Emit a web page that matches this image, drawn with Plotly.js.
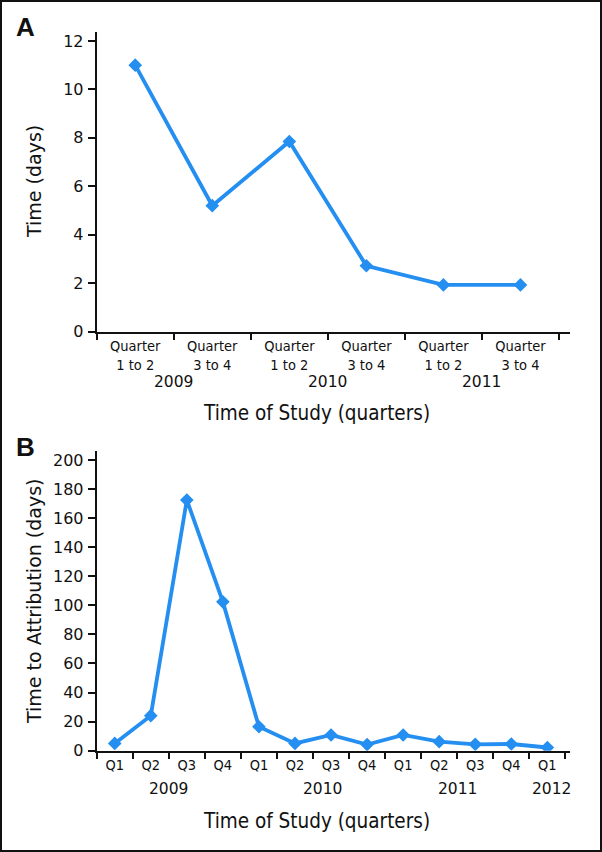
<!DOCTYPE html>
<html>
<head>
<meta charset="utf-8">
<script src="https://cdn.plot.ly/plotly-3.0.1.min.js"></script>
<style>
  html, body { margin:0; padding:0; background:#fff; }
  #wrap { position:relative; width:602px; height:852px; }
  #chart { position:absolute; left:0; top:0; width:602px; height:852px; }
  #frame { position:absolute; left:0; top:0; width:602px; height:852px; box-sizing:border-box; border:2px solid #111; pointer-events:none; }
</style>
</head>
<body>
<div id="wrap"><div id="chart"></div><div id="frame"></div></div>
<script>
// ---- Panel A data ----
const periodsA = ["2009 Q1-Q2", "2009 Q3-Q4", "2010 Q1-Q2", "2010 Q3-Q4", "2011 Q1-Q2", "2011 Q3-Q4"];
const labelsA  = ["Quarter<br>1 to 2", "Quarter<br>3 to 4", "Quarter<br>1 to 2", "Quarter<br>3 to 4", "Quarter<br>1 to 2", "Quarter<br>3 to 4"];
const yearsA   = ["2009", "2009", "2010", "2010", "2011", "2011"];
const daysA    = [11.0, 5.2, 7.85, 2.72, 1.93, 1.93];

// ---- Panel B data ----
const periodsB = ["2009 Q1", "2009 Q2", "2009 Q3", "2009 Q4", "2010 Q1", "2010 Q2", "2010 Q3", "2010 Q4",
                  "2011 Q1", "2011 Q2", "2011 Q3", "2011 Q4", "2012 Q1"];
const labelsB  = ["Q1", "Q2", "Q3", "Q4", "Q1", "Q2", "Q3", "Q4", "Q1", "Q2", "Q3", "Q4", "Q1"];
const yearsB   = ["2009", "2009", "2009", "2009", "2010", "2010", "2010", "2010", "2011", "2011", "2011", "2011", "2012"];
const daysB    = [5.0, 24.1, 172.5, 102.4, 16.5, 5.0, 10.8, 4.2, 10.8, 6.2, 4.4, 4.6, 2.2];

const ticksA = [0, 2, 4, 6, 8, 10, 12];
const ticksB = [0, 20, 40, 60, 80, 100, 120, 140, 160, 180, 200];

const BLUE = "#248ff0";
const INK = "#111111";
const fontNum  = "DejaVu Sans, Liberation Sans, sans-serif";
const fontCond = "DejaVu Sans Condensed, Liberation Sans Narrow, sans-serif";

// small horizontal nudges (px) of the year labels, as placed in the original figure
const yearShiftB = {"2010": 9, "2012": 4};

function yearAnnotations(years, xref, yPaper, shifts) {
  const out = [];
  let start = 0;
  for (let i = 1; i <= years.length; i++) {
    if (i === years.length || years[i] !== years[start]) {
      out.push({
        xref: xref, yref: "paper", x: (start + i - 1) / 2, y: yPaper,
        xshift: (shifts && shifts[years[start]]) || 0,
        text: years[start], showarrow: false, xanchor: "center", yanchor: "middle",
        font: {family: fontNum, size: 15.5, color: INK}
      });
      start = i;
    }
  }
  return out;
}

const trace = (x, y, xa, ya) => ({
  type: "scatter", mode: "lines+markers", x: x, y: y, xaxis: xa, yaxis: ya,
  line: {color: BLUE, width: 3.8},
  marker: {symbol: "diamond", size: 10.5, color: BLUE},
  hoverinfo: "x+y"
});

const data = [trace(periodsA, daysA, "x", "y"), trace(periodsB, daysB, "x2", "y2")];

const xDom = [96.7 / 602, 570 / 602];
const xCommon = {
  type: "category", tickmode: "array", tickson: "boundaries",
  ticks: "outside", ticklen: 6, tickwidth: 2, tickcolor: INK,
  showline: true, linewidth: 2, linecolor: INK, showgrid: false, zeroline: false,
  tickfont: {family: fontCond, size: 14.5, color: INK}, fixedrange: true
};
const yCommon = {
  ticks: "outside", ticklen: 7, tickwidth: 2, tickcolor: INK, tickmode: "array",
  showline: true, linewidth: 2, linecolor: INK, showgrid: false, zeroline: false,
  tickfont: {family: fontNum, size: 16, color: INK}, ticklabelstandoff: 1, fixedrange: true
};

const layout = {
  width: 602, height: 852,
  margin: {l: 0, r: 0, t: 0, b: 0},
  paper_bgcolor: "#ffffff", plot_bgcolor: "#ffffff",
  showlegend: false,
  xaxis: Object.assign({}, xCommon, {domain: xDom, anchor: "y", range: [-0.5, 5.643], tickvals: periodsA, ticktext: labelsA}),
  yaxis: Object.assign({}, yCommon, {domain: [1 - 331.7 / 852, 1 - 31.7 / 852], anchor: "x", range: [0, 12.38], tickvals: ticksA}),
  xaxis2: Object.assign({}, xCommon, {domain: xDom, anchor: "y2", range: [-0.5, 12.628], tickvals: periodsB, ticktext: labelsB}),
  yaxis2: Object.assign({}, yCommon, {domain: [1 - 750.7 / 852, 1 - 450.7 / 852], anchor: "x2", range: [0, 206.4], tickvals: ticksB}),
  annotations: [
    {xref: "paper", yref: "paper", x: 25 / 602, y: 1 - 27 / 852, text: "<b>A</b>", showarrow: false,
     xanchor: "center", yanchor: "middle", font: {family: "Liberation Sans, Arial, sans-serif", size: 26, color: INK}},
    {xref: "paper", yref: "paper", x: 25 / 602, y: 1 - 447 / 852, text: "<b>B</b>", showarrow: false,
     xanchor: "center", yanchor: "middle", font: {family: "Liberation Sans, Arial, sans-serif", size: 26, color: INK}},
    {xref: "paper", yref: "paper", x: 33.3 / 602, y: 1 - 181.7 / 852, text: "Time (days)", textangle: -90, showarrow: false,
     xanchor: "center", yanchor: "middle", font: {family: fontNum, size: 19, color: INK}},
    {xref: "paper", yref: "paper", x: 33.3 / 602, y: 1 - 600.7 / 852, text: "Time to Attribution (days)", textangle: -90, showarrow: false,
     xanchor: "center", yanchor: "middle", font: {family: fontNum, size: 19, color: INK}},
    {xref: "paper", yref: "paper", x: 316 / 602, y: 1 - 413 / 852, text: "Time of Study (quarters)", showarrow: false,
     xanchor: "center", yanchor: "middle", font: {family: fontCond, size: 20.5, color: INK}},
    {xref: "paper", yref: "paper", x: 316 / 602, y: 1 - 821 / 852, text: "Time of Study (quarters)", showarrow: false,
     xanchor: "center", yanchor: "middle", font: {family: fontCond, size: 20.5, color: INK}}
  ].concat(yearAnnotations(yearsA, "x", 1 - 382 / 852), yearAnnotations(yearsB, "x2", 1 - 789 / 852, yearShiftB))
};

Plotly.newPlot("chart", data, layout, {displayModeBar: false, staticPlot: true});
</script>
</body>
</html>
